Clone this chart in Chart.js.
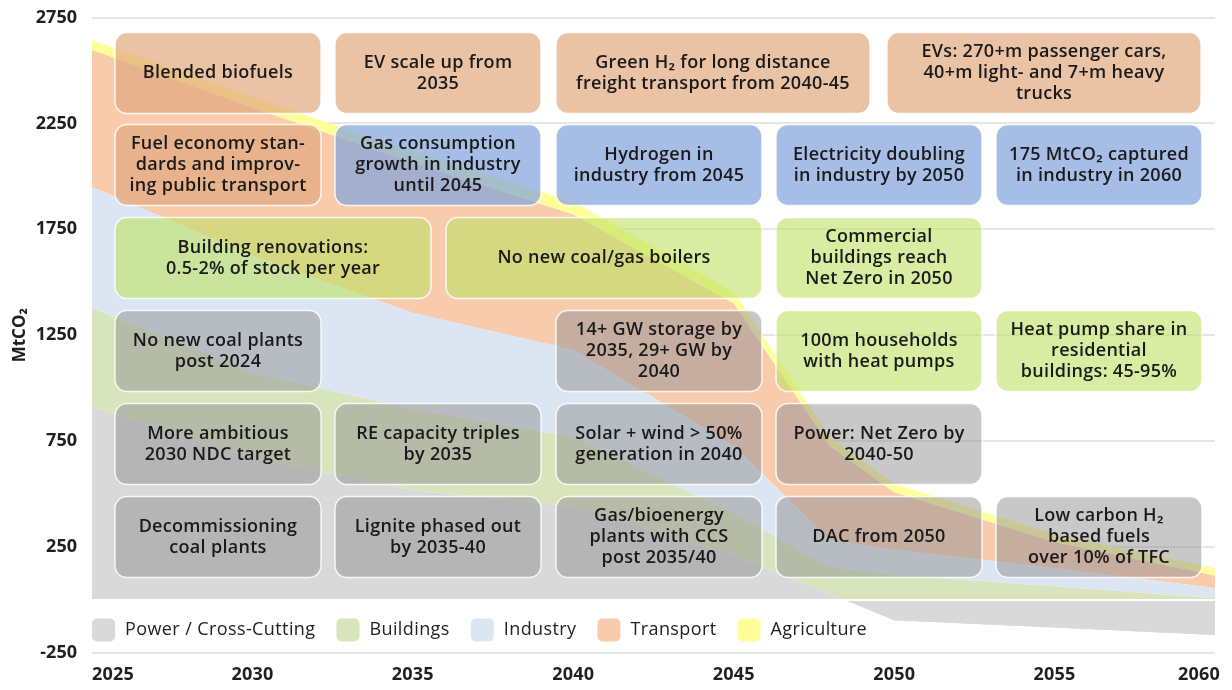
<!DOCTYPE html>
<html lang="en">
<head>
<meta charset="UTF-8">
<title>Sector emissions pathway</title>
<script src="https://cdn.jsdelivr.net/npm/chart.js"></script>
<style>
  html, body { margin: 0; padding: 0; background: #fff; }
  #chart { display: block; }
</style>
</head>
<body>
<canvas id="chart" width="1232" height="690"></canvas>
<script>
// emissions by sector, MtCO2
const years = [2025, 2030, 2035, 2040, 2045, 2048, 2050, 2055, 2060];
const power = [912, 670, 520, 440, 210, 30, -95, -130, -165];
const buildings = [467, 402, 382, 330, 200, 125, 118, 65, 8];
const industry = [571, 553, 453, 410, 320, 129, 121, 85, 49];
const transport = [647, 699, 708, 640, 670, 441, 270, 123, 58];
const agriculture = [47, 50, 55, 60, 55, 45, 40, 38, 35];

const sectorNames = ['Power / Cross-Cutting', 'Buildings', 'Industry', 'Transport', 'Agriculture'];
const xTicks = [2025, 2030, 2035, 2040, 2045, 2050, 2055, 2060];
const yTicks = [-250, 250, 750, 1250, 1750, 2250, 2750];

const areaColors = ['#d9d9d9', '#d8e4bc', '#dce6f2', '#f8cbad', '#ffff99'];
const noteFill = {
    transport: 'rgba(225, 168, 125, 0.7)',
    industry: 'rgba(128, 162, 219, 0.7)',
    buildings: 'rgba(190, 225, 100, 0.6)',
    power: 'rgba(145, 145, 145, 0.5)'
};

// policy boxes: [left, top, width, height] in px from the top-left corner of the plot area
const notes = [
    { box: [23, 15, 206, 81], kind: 'transport', text: ['Blended biofuels'] },
    { box: [243, 15, 206, 81], kind: 'transport', text: ['EV scale up from', '2035'] },
    { box: [464, 15, 314, 81], kind: 'transport', text: ['Green H\u2082 for long distance', 'freight transport from 2040-45'] },
    { box: [795, 15, 314, 81], kind: 'transport', text: ['EVs: 270+m passenger cars,', '40+m light- and 7+m heavy', 'trucks'] },

    { box: [23, 107, 206, 81], kind: 'transport', text: ['Fuel economy stan-', 'dards and improv-', 'ing public transport'] },
    { box: [243, 107, 206, 81], kind: 'industry', text: ['Gas consumption', 'growth in industry', 'until 2045'] },
    { box: [464, 107, 206, 81], kind: 'industry', text: ['Hydrogen in', 'industry from 2045'] },
    { box: [684, 107, 206, 81], kind: 'industry', text: ['Electricity doubling', 'in industry by 2050'] },
    { box: [904, 107, 206, 81], kind: 'industry', text: ['175 MtCO\u2082 captured', 'in industry in 2060'] },

    { box: [23, 200, 316, 81], kind: 'buildings', text: ['Building renovations:', '0.5-2% of stock per year'] },
    { box: [354, 200, 316, 81], kind: 'buildings', text: ['No new coal/gas boilers'] },
    { box: [684, 200, 206, 81], kind: 'buildings', text: ['Commercial', 'buildings reach', 'Net Zero in 2050'] },

    { box: [23, 293, 206, 81], kind: 'power', text: ['No new coal plants', 'post 2024'] },
    { box: [464, 293, 206, 81], kind: 'power', text: ['14+ GW storage by', '2035, 29+ GW by', '2040'] },
    { box: [684, 293, 206, 81], kind: 'buildings', text: ['100m households', 'with heat pumps'] },
    { box: [904, 293, 206, 81], kind: 'buildings', text: ['Heat pump share in', 'residential', 'buildings: 45-95%'] },

    { box: [23, 386, 206, 81], kind: 'power', text: ['More ambitious', '2030 NDC target'] },
    { box: [243, 386, 206, 81], kind: 'power', text: ['RE capacity triples', 'by 2035'] },
    { box: [464, 386, 206, 81], kind: 'power', text: ['Solar + wind > 50%', 'generation in 2040'] },
    { box: [684, 386, 206, 81], kind: 'power', text: ['Power: Net Zero by', '2040-50'] },

    { box: [23, 479, 206, 81], kind: 'power', text: ['Decommissioning', 'coal plants'] },
    { box: [243, 479, 206, 81], kind: 'power', text: ['Lignite phased out', 'by 2035-40'] },
    { box: [464, 479, 206, 81], kind: 'power', text: ['Gas/bioenergy', 'plants with CCS', 'post 2035/40'] },
    { box: [684, 479, 206, 81], kind: 'power', text: ['DAC from 2050'] },
    { box: [904, 479, 206, 81], kind: 'power', text: ['Low carbon H\u2082', 'based fuels', 'over 10% of TFC'] }
];

const FONT = '"Open Sans", "Noto Sans", sans-serif';
Chart.defaults.font.family = FONT;

const series = [power, buildings, industry, transport, agriculture];
const datasets = series.map((vals, i) => ({
    label: sectorNames[i],
    data: years.map((yr, j) => ({ x: yr, y: vals[j] })),
    backgroundColor: areaColors[i],
    borderWidth: 0,
    pointRadius: 0,
    tension: 0,
    fill: i === 0 ? 'origin' : '-1'
}));

const overlay = {
    id: 'overlay',
    afterDatasetsDraw(chart) {
        const ctx = chart.ctx;
        const a = chart.chartArea;
        const y0 = chart.scales.y.getPixelForValue(0);
        ctx.save();
        // thin white line at zero where power turns negative
        ctx.strokeStyle = '#ffffff';
        ctx.lineWidth = 2;
        ctx.beginPath();
        ctx.moveTo(a.left, y0);
        ctx.lineTo(a.right, y0);
        ctx.stroke();

        ctx.font = '600 18px ' + FONT;
        ctx.letterSpacing = '0.3px';
        ctx.textAlign = 'center';
        ctx.textBaseline = 'middle';
        notes.forEach(n => {
            const [l, t, w, h] = n.box;
            const bx = a.left + l, by = a.top + t;
            ctx.beginPath();
            ctx.roundRect(bx, by, w, h, 12);
            ctx.fillStyle = noteFill[n.kind];
            ctx.fill();
            ctx.strokeStyle = 'rgba(255, 255, 255, 0.85)';
            ctx.lineWidth = 1.5;
            ctx.stroke();
            ctx.fillStyle = '#1a1a1a';
            const mid = (n.text.length - 1) / 2;
            n.text.forEach((s, i) => ctx.fillText(s, bx + w / 2, by + h / 2 + (i - mid) * 21));
        });
        ctx.restore();
    },
    afterDraw(chart) {
        const ctx = chart.ctx;
        const a = chart.chartArea;
        const xs = chart.scales.x;
        ctx.save();

        // legend inside the plot, bottom left
        ctx.font = '500 18px ' + FONT;
        ctx.letterSpacing = '0.4px';
        ctx.textBaseline = 'middle';
        ctx.textAlign = 'left';
        let lx = a.left;
        const ly = a.bottom - 23;
        chart.data.datasets.forEach(ds => {
            ctx.beginPath();
            ctx.roundRect(lx, ly - 11.5, 23, 23, 5);
            ctx.fillStyle = ds.backgroundColor;
            ctx.fill();
            ctx.fillStyle = '#222';
            ctx.fillText(ds.label, lx + 33, ly);
            lx += 33 + ctx.measureText(ds.label).width + 21;
        });

        // year labels: first one left aligned, last one right aligned
        ctx.font = '700 18px ' + FONT;
        ctx.letterSpacing = '0.2px';
        ctx.fillStyle = '#1f1f1f';
        xTicks.forEach((t, i) => {
            let px = xs.getPixelForValue(t);
            if (i === 0) ctx.textAlign = 'left';
            else if (i === xTicks.length - 1) { ctx.textAlign = 'right'; px += 5; }
            else ctx.textAlign = 'center';
            ctx.fillText(String(t), px, a.bottom + 22);
        });
        ctx.restore();
    }
};

new Chart(document.getElementById('chart'), {
    type: 'line',
    data: { datasets: datasets },
    options: {
        responsive: false,
        animation: false,
        devicePixelRatio: 1,
        layout: { padding: { left: 0, top: 17.5, right: 17, bottom: 37 } },
        plugins: {
            legend: { display: false },
            tooltip: { enabled: false }
        },
        scales: {
            x: {
                type: 'linear',
                min: 2025,
                max: 2060,
                display: false
            },
            y: {
                stacked: true,
                min: -250,
                max: 2750,
                afterBuildTicks: s => { s.ticks = yTicks.map(v => ({ value: v })); },
                afterFit: s => {
                    s.width = 92;
                    s.paddingTop = 0;
                    s.paddingBottom = 0;
                },
                border: { display: false },
                grid: { color: '#e6e6e6', lineWidth: 2, drawTicks: false },
                ticks: {
                    padding: 15,
                    color: '#1f1f1f',
                    font: { size: 18, weight: '700' },
                    callback: v => String(v)
                },
                title: {
                    display: true,
                    text: 'MtCO\u2082',
                    color: '#1f1f1f',
                    font: { size: 17, weight: '700' },
                    padding: { top: 10, bottom: 0 }
                }
            }
        }
    },
    plugins: [overlay]
});
</script>
</body>
</html>
